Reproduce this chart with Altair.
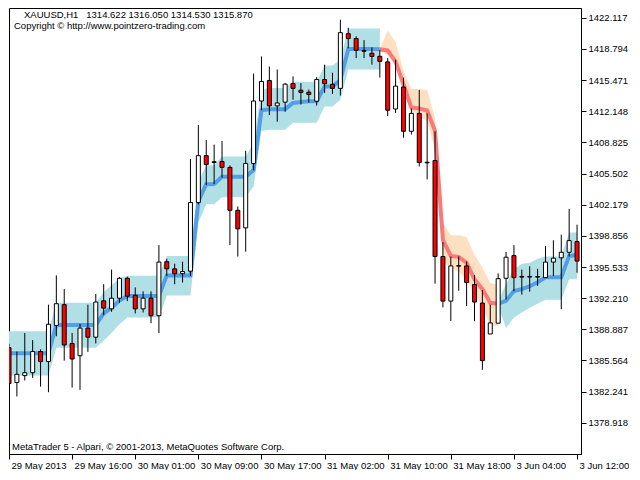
import altair as alt
import pandas as pd

FONT = "Liberation Sans"
FS = 9.5
BLUE_LINE = "#529fe6"
BLUE_BAND = "#b0e0e6"
RED_LINE = "#fa7a7a"
PEACH_BAND = "#fde0c2"

# ---- candles (bar index 0..72, hourly XAUUSD) ----
opens = [1386.93, 1383.22, 1383.95, 1384.26, 1386.52, 1385.45, 1389.30, 1391.52, 1387.38, 1386.07,
         1389.02, 1388.05, 1391.93, 1391.07, 1392.21, 1394.33, 1392.53, 1391.07, 1392.21, 1390.34,
         1396.10, 1395.34, 1394.82, 1395.09, 1402.41, 1407.41, 1406.68, 1406.79, 1406.16, 1401.58,
         1399.71, 1406.58, 1413.24, 1415.43, 1412.72, 1413.12, 1415.11, 1414.39, 1414.18, 1413.22,
         1415.53, 1415.02, 1414.59, 1420.42, 1419.90, 1418.61, 1418.34, 1418.01, 1417.41, 1412.39,
         1414.73, 1410.01, 1411.92, 1406.71, 1406.89, 1396.65, 1391.90, 1395.63, 1395.65, 1393.67,
         1391.69, 1388.39, 1389.54, 1394.33, 1396.75, 1394.53, 1394.46, 1394.51, 1394.40, 1396.06,
         1396.51, 1397.11, 1398.25]
highs = [1387.35, 1386.52, 1388.50, 1387.74, 1386.76, 1391.52, 1394.64, 1393.18, 1388.50, 1389.46,
         1391.52, 1392.66, 1393.70, 1395.26, 1394.46, 1394.50, 1393.36, 1392.94, 1392.94, 1397.87,
         1396.41, 1395.89, 1396.10, 1407.06, 1410.67, 1409.08, 1408.59, 1408.97, 1406.37, 1402.00,
         1407.93, 1416.16, 1417.99, 1416.92, 1416.60, 1415.15, 1415.87, 1415.15, 1414.47, 1415.80,
         1417.12, 1416.26, 1421.91, 1421.05, 1420.14, 1419.73, 1418.95, 1418.69, 1417.82, 1417.64,
         1415.74, 1412.44, 1414.42, 1411.92, 1410.01, 1398.18, 1396.65, 1396.67, 1396.13, 1394.69,
         1393.08, 1391.52, 1394.85, 1397.14, 1397.87, 1395.26, 1395.61, 1395.34, 1397.76, 1398.39,
         1398.98, 1401.72, 1400.05]
lows = [1382.77, 1381.73, 1383.43, 1383.71, 1382.77, 1382.18, 1388.15, 1385.55, 1382.67, 1382.43,
        1386.49, 1387.38, 1390.40, 1390.76, 1391.72, 1391.90, 1390.58, 1390.68, 1389.54, 1388.50,
        1394.57, 1393.70, 1393.88, 1394.57, 1402.21, 1404.29, 1404.39, 1405.05, 1397.87, 1396.65,
        1397.17, 1405.85, 1412.26, 1411.74, 1411.03, 1412.10, 1413.38, 1412.86, 1413.06, 1412.75,
        1414.11, 1414.00, 1413.82, 1418.86, 1417.82, 1417.82, 1417.12, 1415.74, 1411.64, 1411.97,
        1409.32, 1409.66, 1406.27, 1404.87, 1393.75, 1391.23, 1389.78, 1393.00, 1391.36, 1389.75,
        1384.57, 1388.39, 1389.54, 1392.07, 1392.94, 1392.59, 1392.90, 1393.52, 1394.40, 1394.57,
        1391.03, 1396.65, 1394.92]
closes = [1383.11, 1384.09, 1384.26, 1386.52, 1385.45, 1389.43, 1391.62, 1387.22, 1385.72, 1389.02,
          1388.05, 1391.80, 1391.15, 1392.21, 1394.33, 1392.42, 1391.07, 1392.21, 1390.34, 1396.06,
          1395.34, 1394.82, 1395.05, 1402.41, 1407.41, 1406.47, 1406.77, 1406.16, 1401.58, 1399.60,
          1406.58, 1413.24, 1415.32, 1412.72, 1413.03, 1415.04, 1414.59, 1414.16, 1413.93, 1415.53,
          1415.09, 1414.59, 1420.53, 1419.90, 1418.65, 1418.55, 1417.99, 1417.47, 1412.26, 1414.83,
          1410.01, 1411.92, 1406.68, 1406.65, 1396.65, 1391.90, 1395.65, 1395.68, 1393.88, 1391.80,
          1385.55, 1389.57, 1394.29, 1396.58, 1394.40, 1394.46, 1394.53, 1394.46, 1396.06, 1396.48,
          1397.11, 1398.35, 1396.17]

# ---- indicator: centre line and channel (None = not drawn in that colour) ----
mid = [1386.34, 1386.34, 1386.34, 1386.34, 1386.34, 1386.34, 1389.36, 1389.36, 1389.36, 1389.36,
       1389.36, 1389.36, 1390.58, 1391.20, 1391.96, 1392.45, 1392.45, 1392.45, 1392.45, 1392.45,
       1394.64, 1394.64, 1394.64, 1394.64, 1402.55, 1404.37, 1404.39, 1405.15, 1405.15, 1405.15,
       1405.15, 1405.88, 1412.26, 1412.37, 1412.37, 1412.37, 1413.03, 1413.14, 1413.22, 1413.22,
       1414.80, 1414.80, 1415.46, 1418.79, 1418.79, 1418.79, 1418.79, 1418.76, 1418.63, 1417.44,
       1415.04, 1412.54, 1412.44, 1412.23, 1410.05, 1398.39, 1396.72, 1396.62, 1395.99, 1394.22,
       1393.18, 1391.72, 1391.62, 1391.93, 1392.97, 1393.18, 1393.49, 1393.91, 1394.43, 1394.43,
       1394.43, 1396.72, 1396.82]
up_hi = [1388.67, 1388.67, 1388.67, 1388.67, 1388.67, 1388.67, 1391.72, 1391.72, 1391.72, 1391.72,
         1391.72, 1391.72, 1392.87, 1393.60, 1394.33, 1394.59, 1394.59, 1394.59, 1394.59, 1394.59,
         1396.72, 1396.72, 1396.72, 1396.72, 1404.63, 1406.40, 1406.40, 1407.31, 1407.31, 1407.31,
         1407.31, 1408.80, 1414.42, 1414.63, 1414.63, 1414.63, 1415.30, 1415.30, 1415.30, 1415.30,
         1417.02, 1417.02, 1417.64, 1420.98, 1420.98, 1420.98, 1420.98, 1420.98, None, None,
         None, None, None, None, None, None, None, None, None, None,
         None, None, 1391.93, 1393.70, 1395.26, 1395.89, 1395.99, 1396.41, 1396.65, 1396.65,
         1396.65, 1399.22, 1399.22]
up_lo = [1383.97, 1383.97, 1383.97, 1383.97, 1383.97, 1383.97, 1386.93, 1386.93, 1386.93, 1386.93,
         1386.93, 1386.93, 1387.66, 1388.50, 1389.43, 1390.16, 1390.16, 1390.16, 1390.16, 1390.16,
         1392.50, 1392.50, 1392.50, 1392.50, 1400.26, 1402.24, 1402.24, 1402.97, 1402.97, 1402.97,
         1402.97, 1404.11, 1410.05, 1410.18, 1410.18, 1410.18, 1410.93, 1410.93, 1410.93, 1410.93,
         1412.65, 1412.65, 1413.38, 1416.60, 1416.60, 1416.60, 1416.60, 1416.60, None, None,
         None, None, None, None, None, None, None, None, None, None,
         None, None, 1391.31, 1389.02, 1390.16, 1390.68, 1391.20, 1391.62, 1392.04, 1392.04,
         1392.04, 1394.22, 1394.22]
dn_hi = [None] * 47 + [1418.79, 1420.77, 1419.52, 1416.50, 1414.52, 1414.52, 1414.42, 1411.40,
                       1400.26, 1398.91, 1398.91, 1398.70, 1396.82, 1395.47, 1393.81, 1393.70] + [None] * 10
dn_lo = [None] * 47 + [1418.58, 1418.16, 1416.92, 1414.00, 1412.13, 1411.71, 1411.09, 1408.07,
                       1396.10, 1395.47, 1395.05, 1394.22, 1392.66, 1391.31, 1389.23, 1389.23] + [None] * 10

# ---- axes ----
time_ticks = [0, 8, 16, 24, 32, 40, 48, 56, 64, 72]
time_labels = ["29 May 2013", "29 May 16:00", "30 May 01:00", "30 May 09:00", "30 May 17:00",
               "31 May 02:00", "31 May 10:00", "31 May 18:00", "3 Jun 04:00", "3 Jun 12:00"]
price_ticks = [1422.117, 1418.794, 1415.471, 1412.148, 1408.825, 1405.502, 1402.179,
               1398.856, 1395.533, 1392.210, 1388.887, 1385.564, 1382.241, 1378.918]

header = "XAUUSD,H1\u00a0\u00a0 1314.622 1316.050 1314.530 1315.870"
copyright_txt = "Copyright \u00a9 http://www.pointzero-trading.com"
footer = "MetaTrader 5 - Alpari, \u00a9 2001-2013, MetaQuotes Software Corp."

N = len(opens)
candles = pd.DataFrame({"i": list(range(N)), "o": opens, "h": highs, "l": lows, "c": closes})
candles["dir"] = ["up" if c >= o else "down" for o, c in zip(opens, closes)]


def runs(hi, lo):
    rows, seg, prev = [], 0, False
    for i in range(N):
        if hi[i] is None:
            prev = False
            continue
        if not prev:
            seg += 1
        prev = True
        rows.append({"i": i, "hi": hi[i], "lo": lo[i], "mid": mid[i], "seg": seg})
    return pd.DataFrame(rows)


up = runs(up_hi, up_lo)
dn = runs(dn_hi, dn_lo)

xs = alt.Scale(domain=[0, 72.5], nice=False, zero=False, padding=0)
ys = alt.Scale(domain=[1375.59, 1423.16], nice=False, zero=False, padding=0)

label_expr = "[" + ",".join("'" + s + "'" for s in time_labels) + "][round(datum.value / 8)]"
x_axis = alt.Axis(values=time_ticks, labelExpr=label_expr, title=None, grid=False, tickSize=5,
                  labelAlign="left", labelBaseline="top", labelPadding=1, labelOffset=2,
                  labelOverlap=False, labelFlush=False, labelFont=FONT, labelFontSize=FS,
                  labelColor="black", tickColor="black", domainColor="black")
y_axis = alt.Axis(orient="right", values=price_ticks, format=".3f", title=None, grid=False,
                  tickSize=5, labelPadding=2, labelOverlap=False, labelFlush=False,
                  labelFont=FONT, labelFontSize=FS, labelColor="black", tickColor="black",
                  domainColor="black")

X = alt.X("i:Q", scale=xs, axis=x_axis)


def Y(field):
    return alt.Y(f"{field}:Q", scale=ys, axis=y_axis)


up_band = alt.Chart(up).mark_area(color=BLUE_BAND, opacity=1, clip=True).encode(
    x=X, y=Y("hi"), y2="lo:Q", detail="seg:N")
dn_band = alt.Chart(dn).mark_area(color=PEACH_BAND, opacity=1, clip=True).encode(
    x=X, y=Y("hi"), y2="lo:Q", detail="seg:N")
up_line = alt.Chart(up).mark_line(color=BLUE_LINE, strokeWidth=4, clip=True).encode(
    x=X, y=Y("mid"), detail="seg:N")
dn_line = alt.Chart(dn).mark_line(color=RED_LINE, strokeWidth=4, clip=True).encode(
    x=X, y=Y("mid"), detail="seg:N")
wicks = alt.Chart(candles).mark_rule(color="black", strokeWidth=1, clip=True).encode(
    x=X, y=Y("l"), y2="h:Q")
bodies = alt.Chart(candles).mark_bar(size=4, stroke="black", strokeWidth=1, clip=True).encode(
    x=X, y=Y("o"), y2="c:Q",
    fill=alt.Fill("dir:N", scale=alt.Scale(domain=["up", "down"], range=["white", "#ff0000"]),
                  legend=None))


def label(txt, px, py):
    return alt.Chart(pd.DataFrame({"t": [txt]})).mark_text(
        align="left", baseline="middle", font=FONT, fontSize=FS, color="black").encode(
        text="t:N", x=alt.value(px), y=alt.value(py))


chart = alt.layer(
    up_band, dn_band, up_line, dn_line, wicks, bodies,
    label(header, 15, 7), label(copyright_txt, 5, 18), label(footer, 3, 439),
).properties(width=572, height=446, padding=0, background="white").configure_view(
    stroke="black", strokeWidth=1)

chart.save("out.html", embed_options={"renderer": "svg", "actions": False})
